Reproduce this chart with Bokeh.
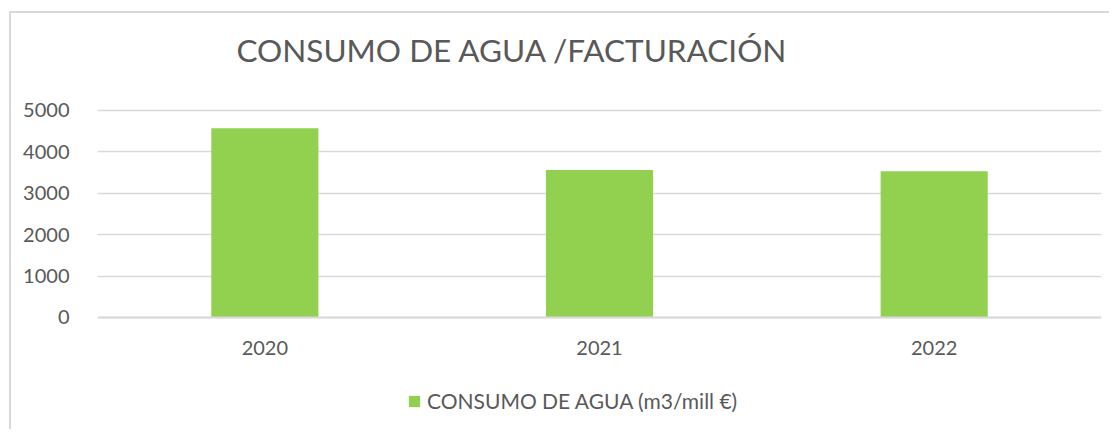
from bokeh.plotting import figure
from bokeh.models import FactorRange, Range1d, FixedTicker, Label, Legend, LegendItem, ColumnDataSource
from bokeh.embed import file_html
from bokeh.resources import INLINE

years = ["2020", "2021", "2022"]
consumo = [4570, 3565, 3535]
y_ticks = [0, 1000, 2000, 3000, 4000, 5000]
title_text = "CONSUMO DE AGUA /FACTURACIÓN"
series_name = "CONSUMO DE AGUA (m3/mill €)"

FONT = "Lato"
TXT = "#595959"
GRID = "#d9d9d9"
GREEN = "#92d050"

src = ColumnDataSource(dict(year=years, value=consumo))

# frame spans the full canvas height; value axis 0..5000 maps to the plot band
p = figure(
    x_range=FactorRange(*years), y_range=Range1d(-2754, 7343),
    width=1100, height=418, output_backend="svg", toolbar_location=None,
    min_border_left=86, min_border_right=10, min_border_top=0, min_border_bottom=0,
    styles={"margin-top": "11px", "margin-left": "9px",
            "border-left": "2px solid #d9d9d9", "border-top": "2px solid #d9d9d9"},
)
p.x_range.range_padding = 0
p.outline_line_color = None
p.background_fill_color = "white"
p.border_fill_color = "white"

r = p.vbar(x="year", top="value", width=0.32, source=src, fill_color=GREEN, line_color=None)

p.xgrid.visible = False
p.ygrid.grid_line_color = GRID
p.ygrid.grid_line_width = 1.5
p.yaxis.ticker = FixedTicker(ticks=y_ticks)

for ax in (p.xaxis[0], p.yaxis[0]):
    ax.major_tick_line_color = None
    ax.minor_tick_line_color = None
    ax.major_label_text_font = FONT
    ax.major_label_text_font_size = "20px"
    ax.major_label_text_color = TXT
p.yaxis.axis_line_color = None
p.yaxis.major_label_standoff = 22
p.xaxis.fixed_location = 0
p.xaxis.axis_line_color = GRID
p.xaxis.axis_line_width = 2
p.xaxis.major_label_standoff = 18

title = Label(x=415, y=382, x_units="screen", y_units="screen", text=title_text,
              text_align="center", text_baseline="alphabetic",
              text_font=FONT, text_font_size="31.5px", text_color=TXT)
p.add_layout(title)

legend = Legend(items=[LegendItem(label=series_name, renderers=[r])],
                location=(310, 18), orientation="horizontal",
                padding=0, margin=0, spacing=0,
                glyph_width=14, glyph_height=14, label_height=14, label_standoff=6,
                label_text_font=FONT, label_text_font_size="21px", label_text_color=TXT,
                border_line_color=None, background_fill_alpha=0)
p.add_layout(legend)

open("out.html", "w").write(file_html(p, INLINE))
